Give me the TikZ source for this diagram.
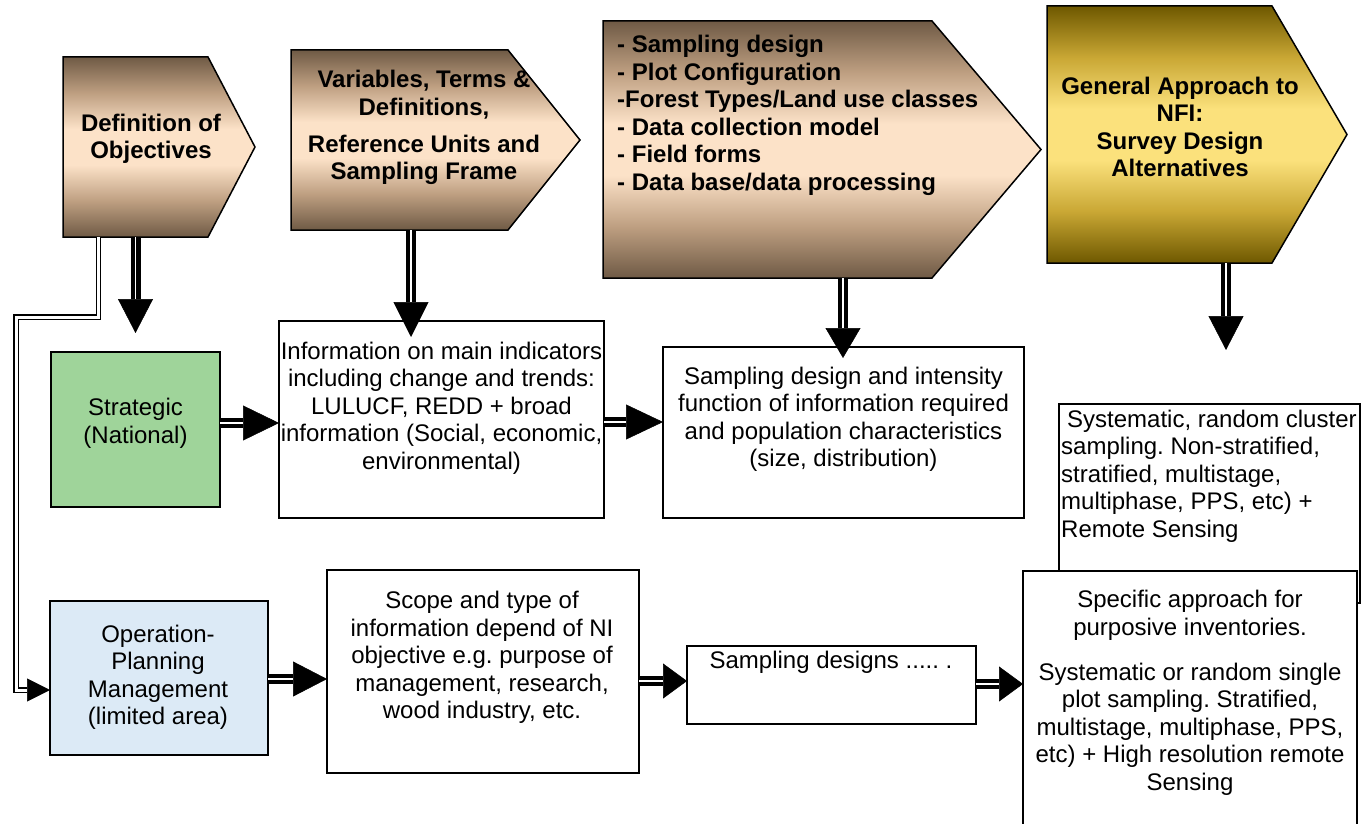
\documentclass[tikz,border=0pt]{standalone}
\usepackage{fontspec}
\setmainfont{Liberation Sans}
\usetikzlibrary{arrows.meta,calc}
\definecolor{browndark}{HTML}{6F5A45}
\definecolor{browntan}{HTML}{BE9F81}
\definecolor{brownlight}{HTML}{FCE2C8}
\definecolor{golddark}{HTML}{6E5800}
\definecolor{goldtan}{HTML}{C9A734}
\definecolor{goldlight}{HTML}{FBE17C}
\definecolor{stratgreen}{HTML}{9FD49A}
\definecolor{opblue}{HTML}{DCEAF6}
\pgfdeclareverticalshading{brownsh}{100bp}{color(0bp)=(browndark); color(25bp)=(browndark); color(35bp)=(browntan); color(45bp)=(brownlight); color(55bp)=(brownlight); color(65bp)=(browntan); color(75bp)=(browndark); color(100bp)=(browndark)}
\pgfdeclareverticalshading{goldsh}{100bp}{color(0bp)=(golddark); color(25bp)=(golddark); color(35bp)=(goldtan); color(45bp)=(goldlight); color(55bp)=(goldlight); color(65bp)=(goldtan); color(75bp)=(golddark); color(100bp)=(golddark)}
\begin{document}
\begin{tikzpicture}[x=1pt,y=-1pt,
  pentB/.style={draw=black,line width=1.5pt,shading=brownsh},
  pentG/.style={draw=black,line width=1.5pt,shading=goldsh},
  body/.style={inner sep=0pt,outer sep=0pt,draw=none},
  box/.style={draw=black,line width=1.8pt,inner sep=0pt,outer sep=0pt,anchor=north west,fill=white},
  txt/.style={inner sep=0pt,align=center,font=\fontsize{24pt}{27.5pt}\selectfont\frenchspacing},
  btxt/.style={inner sep=0pt,align=center,font=\fontsize{24pt}{27.5pt}\selectfont\bfseries\frenchspacing},
  shaft/.style={draw=black,line width=4.2pt,double=white,double distance=1.6pt},
  thinshaft/.style={draw=black,line width=1.3pt,double=white,double distance=3pt},
  headA/.style={draw=black,line width=0.5pt,-{Triangle[length=#1,width=35pt]}},
  headS/.style={draw=black,line width=0.5pt,-{Triangle[length=23pt,width=23pt]}},
]
\clip (0,0) rectangle (1369,824);
\fill[white] (0,0) rectangle (1369,824);

% ---------- pentagon bodies ----------
\node[body,minimum width=145pt,minimum height=180pt] (obj) at (135.5,147) {};
\node[body,minimum width=217pt,minimum height=180pt] (var) at (399.5,140) {};
\node[body,minimum width=329pt,minimum height=257pt] (samp) at (767.5,149.5) {};
\node[body,minimum width=225pt,minimum height=257pt] (gen) at (1159.5,134.5) {};

\path[pentB] (obj.north west) -- (obj.north east) -- ($(obj.east)+(47,0)$) -- (obj.south east) -- (obj.south west) -- cycle;
\path[pentB] (var.north west) -- (var.north east) -- ($(var.east)+(72,0)$) -- (var.south east) -- (var.south west) -- cycle;
\path[pentB] (samp.north west) -- (samp.north east) -- ($(samp.east)+(109,0)$) -- (samp.south east) -- (samp.south west) -- cycle;
\path[pentG] (gen.north west) -- (gen.north east) -- ($(gen.east)+(75,0)$) -- (gen.south east) -- (gen.south west) -- cycle;

% ---------- boxes ----------
\node[box,fill=stratgreen,minimum width=169pt,minimum height=155pt] (strat) at (51,352) {};
\node[box,minimum width=325pt,minimum height=197pt] (info) at (279,321) {};
\node[box,minimum width=361pt,minimum height=171pt] (sd) at (663,347) {};
\node[box,minimum width=301pt,minimum height=199pt] (syst) at (1059,404) {};
\node[box,fill=opblue,minimum width=218pt,minimum height=154pt] (op) at (50,601) {};
\node[box,minimum width=312pt,minimum height=203pt] (scope) at (327,570) {};
\node[box,minimum width=289pt,minimum height=78pt] (sdes) at (687,646) {};
\node[box,minimum width=334pt,minimum height=290pt] (spec) at (1023,571) {};

% ---------- arrow tip coordinates ----------
\coordinate (t1) at (135.5,333);
\coordinate (t2) at (411,337);
\coordinate (t3) at (843,358);
\coordinate (t4) at (1226,350);
\coordinate (t5) at (279,423);
\coordinate (t6) at (663,422);
\coordinate (t7) at (327,679);
\coordinate (t8) at (687,681);
\coordinate (t9) at (1023,684);
\coordinate (t10) at (50,690);
\coordinate (c1) at (16,317);

% ---------- vertical arrows ----------
\draw[headA=34pt] (obj.south) -- (t1);
\draw[shaft,shorten >=34pt] (obj.south) -- (t1);
\draw[headA=35pt] (var.south -| t2) -- (t2);
\draw[shaft,shorten >=35pt] (var.south -| t2) -- (t2);
\draw[headA=30pt] (samp.south -| t3) -- (t3);
\draw[shaft,shorten >=30pt] (samp.south -| t3) -- (t3);
\draw[headA=34pt] (gen.south -| t4) -- (t4);
\draw[shaft,shorten >=34pt] (gen.south -| t4) -- (t4);

% ---------- horizontal arrows ----------
\draw[headA=36pt] (t5 -| strat.east) -- (t5);
\draw[shaft,shorten >=36pt] (t5 -| strat.east) -- (t5);
\draw[headA=37pt] (t6 -| info.east) -- (t6);
\draw[shaft,shorten >=37pt] (t6 -| info.east) -- (t6);
\draw[headA=34pt] (t7 -| op.east) -- (t7);
\draw[shaft,shorten >=34pt] (t7 -| op.east) -- (t7);
\draw[headA=24pt] (t8 -| scope.east) -- (t8);
\draw[shaft,shorten >=24pt] (t8 -| scope.east) -- (t8);
\draw[headA=24pt] (t9 -| sdes.east) -- (t9);
\draw[shaft,shorten >=24pt] (t9 -| sdes.east) -- (t9);

% ---------- long connector ----------
\draw[headS] (c1 |- t10) -- (t10);
\draw[thinshaft,shorten >=23pt] ([xshift=35.5pt]obj.south west) |- (c1) |- (t10);

% ---------- texts ----------
\node[btxt] (objt) at (151,139) {Definition of\\Objectives};
\node[btxt] (vart) at (424,127.5) {Variables, Terms \&\\Definitions,\\[9.5pt]Reference Units and\\Sampling Frame};
\node[btxt,align=left,anchor=west] (sampt) at (617,115.5) {- Sampling design\\- Plot Configuration\\-Forest Types/Land use classes\\- Data collection model\\- Field forms\\- Data base/data processing};
\node[btxt] (gent) at (1180,127) {General Approach to\\NFI:\\Survey Design\\Alternatives};

\node[txt] (stratt) at (135.5,423.5) {Strategic\\(National)};
\node[txt] (infot) at (441.5,408) {Information on main indicators\\including change and trends:\\LULUCF, REDD + broad\\information (Social, economic,\\environmental)};
\node[txt] (sdt) at (843.5,419.5) {Sampling design and intensity\\function of information required\\and population characteristics\\(size, distribution)};
\node[txt,align=left,anchor=west] (systt) at (1061,476) {\hspace*{6pt}Systematic, random cluster\\sampling. Non-stratified,\\stratified, multistage,\\multiphase, PPS, etc) +\\Remote Sensing};

\node[txt] (opt) at (158,677.5) {Operation-\\Planning\\Management\\(limited area)};
\node[txt] (scopet) at (482,657.5) {Scope and type of\\information depend of NI\\objective e.g. purpose of\\management, research,\\wood industry, etc.};
\node[txt] (sdest) at (831,662) {Sampling designs ..... .};
\node[txt] (spect) at (1190,693) {Specific approach for\\purposive inventories.\\[17.5pt]Systematic or random single\\plot sampling. Stratified,\\multistage, multiphase, PPS,\\etc) + High resolution remote\\Sensing};
\end{tikzpicture}
\end{document}
